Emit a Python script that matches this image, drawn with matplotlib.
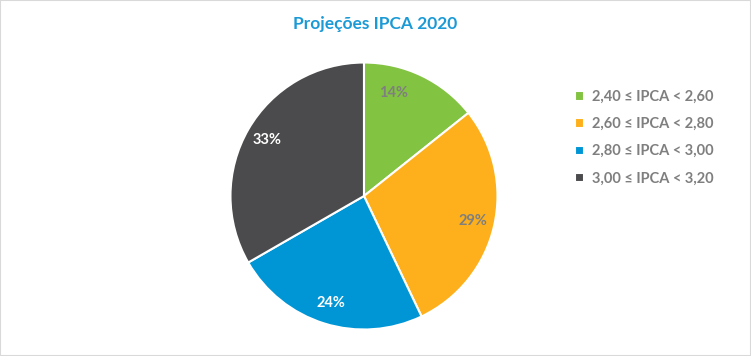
import matplotlib.pyplot as plt
from matplotlib.patches import Rectangle

# ==============================
# Data
# ==============================
categories = ["2,40 ≤ IPCA < 2,60", "2,60 ≤ IPCA < 2,80",
              "2,80 ≤ IPCA < 3,00", "3,00 ≤ IPCA < 3,20"]
shares = [14.3, 28.6, 23.8, 33.3]
colors = ["#82C341", "#FDB01B", "#0096D6", "#4B4B4D"]
label_colors = ["#7F7F7F", "#7F7F7F", "white", "white"]

plt.rcParams["font.family"] = ["Lato", "DejaVu Sans"]

# ==============================
# Figure
# ==============================
fig = plt.figure(figsize=(7.51, 3.56), dpi=100)
fig.patches.append(Rectangle((0, 0), 1, 1, transform=fig.transFigure,
                             fill=False, edgecolor="#D9D9D9", linewidth=1.5))

ax = fig.add_axes([0.3069, 0.0744, 0.3555, 0.75])
wedges, texts, autotexts = ax.pie(
    shares,
    colors=colors,
    startangle=90,
    counterclock=False,
    autopct="%.0f%%",
    pctdistance=0.84,
    wedgeprops=dict(edgecolor="white", linewidth=1.5),
)
for t, c in zip(autotexts, label_colors):
    t.set_color(c)
    t.set_fontsize(10.5)
    t.set_fontweight("bold")
# first label sits closer to the top in the original
x0, y0 = autotexts[0].get_position()
autotexts[0].set_position((x0 * 0.6, y0 * 1.02))
ax.set_xlim(-1, 1)
ax.set_ylim(-1, 1)

fig.text(0.5, 0.932, "Projeções IPCA 2020", ha="center", va="center",
         fontsize=12.5, fontweight="bold", color="#1B9AD6")

leg = fig.legend(wedges, categories, loc="upper left",
                 bbox_to_anchor=(0.748, 0.784), frameon=False,
                 handlelength=0.6, handleheight=0.6, handletextpad=0.6,
                 labelspacing=0.9, prop=dict(weight="bold", size=10.5))
for t in leg.get_texts():
    t.set_color("#7F7F7F")

plt.savefig("out.png", dpi=100)
